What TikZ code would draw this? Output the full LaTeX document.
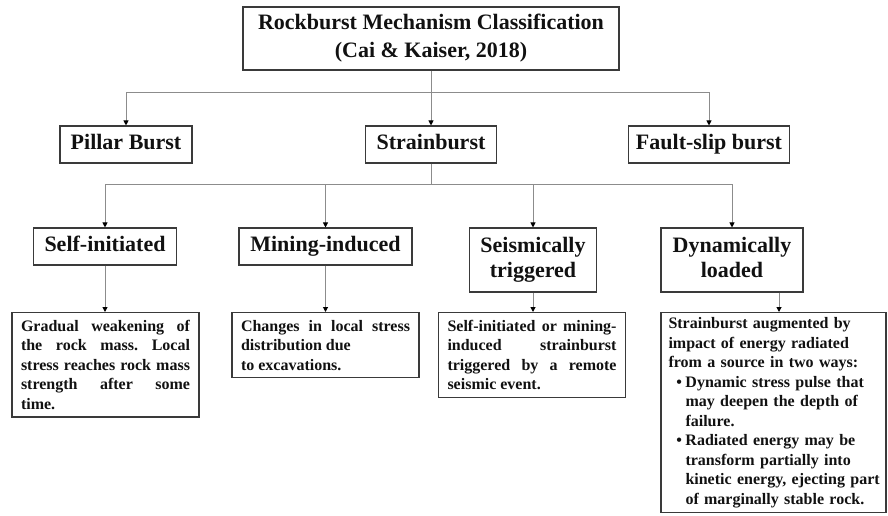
\documentclass[tikz,border=0pt]{standalone}
\usepackage{fontspec}
\setmainfont{Liberation Serif}
\usetikzlibrary{arrows.meta,positioning}
\definecolor{RBMLine}{HTML}{8C8C8C}
\definecolor{RBMFrame}{HTML}{3A3A3A}
\definecolor{RBMText}{HTML}{111111}

\frenchspacing
\newcommand{\notebullet}{\par\hangindent=17pt\hangafter=0\noindent\llap{\textbullet\hskip3.5pt}}

\tikzset{
  classbox/.style={draw=RBMFrame, line width=1.1pt, text=RBMText, align=center,
    inner sep=0pt, font=\bfseries\fontsize{22}{25}\selectfont},
  oneline/.style={text height=15pt, text depth=5pt},
  twoline/.style={text height=40pt, text depth=5pt},
  notebox/.style={draw=RBMFrame, line width=1.1pt, text=RBMText, anchor=north,
    text width=169pt, inner xsep=9pt, inner ysep=7.5pt,
    font=\bfseries\fontsize{16}{19.5}\selectfont},
  feedline/.style={draw=RBMLine, line width=1pt, -{Triangle[length=5pt,width=5pt,color=black]}},
  trunkline/.style={draw=RBMLine, line width=1pt}
}

\begin{document}
\begin{tikzpicture}[x=1pt,y=-1pt]
    \useasboundingbox (0,0) rectangle (888,516);
    % top and first level
    \node[classbox, minimum width=376pt, minimum height=63pt, font=\bfseries\fontsize{22}{28}\selectfont]
      (title) at (431,38.5) {Rockburst Mechanism Classification\\(Cai \& Kaiser, 2018)};
    \node[classbox, oneline, minimum width=132pt, minimum height=37pt] (pillar) at (126,144.5) {Pillar Burst};
    \node[classbox, oneline, minimum width=131pt, minimum height=37pt] (strain) at (431,144.5) {Strainburst};
    \node[classbox, oneline, minimum width=161pt, minimum height=37pt] (fault) at (709,144.5) {Fault-slip burst};
    % strainburst types
    \node[classbox, oneline, minimum width=143pt, minimum height=37pt] (self) at (105,246.5) {Self-initiated};
    \node[classbox, oneline, minimum width=173pt, minimum height=37pt] (mining) at (325.5,246.5) {Mining-induced};
    \node[classbox, twoline, minimum width=127pt, minimum height=64pt] (seismic) at (533,260) {Seismically\\triggered};
    \node[classbox, twoline, minimum width=142pt, minimum height=64pt] (dynamic) at (732,260) {Dynamically\\loaded};
    % descriptions
    \node[notebox, align=justify] (selfnote) at (105.5,312)
      {Gradual weakening of\linebreak the rock mass. Local\linebreak stress reaches rock mass\linebreak strength after some\linebreak time.};
    \node[notebox, align=justify] (miningnote) at (325.5,312)
      {Changes in local stress\linebreak distribution due\hfill\break to excavations.};
    \node[notebox, align=justify] (seismicnote) at (532,312)
      {Self-initiated or mining-\linebreak induced strainburst\linebreak triggered by a remote\linebreak seismic event.};
    \node[notebox, align=left, text width=210pt, inner xsep=7.5pt, inner ysep=5pt] (dynamicnote) at (773.5,312)
      {\noindent Strainburst augmented by\newline impact of energy radiated\newline from a source in two ways:%
       \notebullet Dynamic stress pulse that\newline may deepen the depth of\newline failure.%
       \notebullet Radiated energy may be\newline transform partially into\newline \mbox{kinetic energy, ejecting part}\newline of marginally stable rock.\par};
    % connectors
    \coordinate (topfork) at (431,93);
    \coordinate (midfork) at (431,184);
    \draw[trunkline] (title.south) -- (topfork);
    \draw[feedline] (topfork) -| (pillar.north);
    \draw[feedline] (topfork) -- (strain.north);
    \draw[feedline] (topfork) -| (fault.north);
    \draw[trunkline] (strain.south) -- (midfork);
    \draw[feedline] (midfork) -| (self.north);
    \draw[feedline] (midfork) -| (mining.north);
    \draw[feedline] (midfork) -| (seismic.north);
    \draw[feedline] (midfork) -| (dynamic.north);
    \draw[feedline] (self.south) -- (self.south |- selfnote.north);
    \draw[feedline] (mining.south) -- (mining.south |- miningnote.north);
    \draw[feedline] (seismic.south) -- (seismic.south |- seismicnote.north);
    \draw[feedline] ([xshift=47pt]dynamic.south) -- ([xshift=47pt]dynamic.south |- dynamicnote.north);
  \end{tikzpicture}
\end{document}
